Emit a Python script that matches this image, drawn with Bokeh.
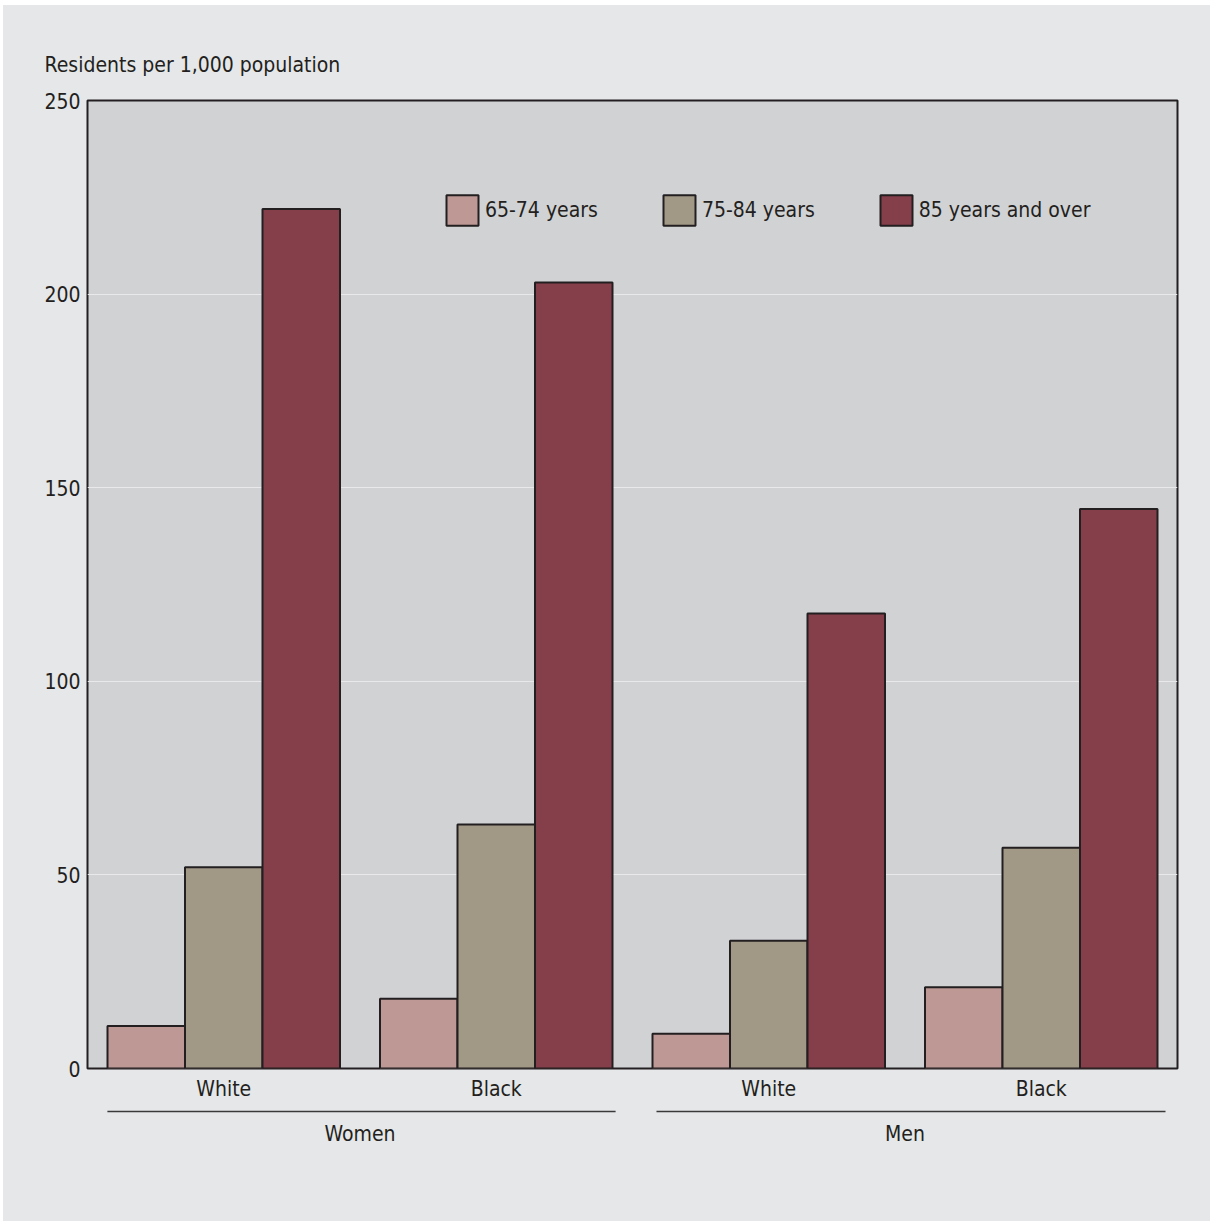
from bokeh.plotting import figure
from bokeh.models import (FactorRange, Range1d, Legend, LegendItem, Title,
                          ColumnDataSource, FixedTicker)
from bokeh.transform import dodge
from bokeh.layouts import column
from bokeh.embed import file_html
from bokeh.resources import INLINE
from bokeh.core.properties import value

# ---------------- data ----------------
sexes = ["Women", "Women", "Men", "Men"]
races = ["White", "Black", "White", "Black"]
groups = ["Women", "Men"]
age_groups = ["65-74 years", "75-84 years", "85 years and over"]
v_65_74 = [11, 18, 9, 21]
v_75_84 = [52, 63, 33, 57]
v_85_over = [222, 203, 117.5, 144.5]
y_ticks = [0, 50, 100, 150, 200, 250]
y_title = "Residents per 1,000 population"

# ---------------- style ----------------
FONT = "DejaVu Sans Condensed, Roboto, sans-serif"
TXT = "#231f20"
PANEL = "#e6e7e8"
PLOTBG = "#d1d2d4"
colors = ["#bd9894", "#a29886", "#843f4a"]
FS = "21px"

factors = list(zip(sexes, races))
src = ColumnDataSource(dict(x=factors, a=v_65_74, b=v_75_84, c=v_85_over))

xr = FactorRange(*factors, factor_padding=0, group_padding=0, range_padding=0)

TOP, FH, BOT = 95, 968, 40
p = figure(x_range=xr, y_range=Range1d(0, 250),
           frame_width=1090, frame_height=FH,
           min_border_left=84, min_border_right=33,
           min_border_top=TOP, min_border_bottom=BOT,
           output_backend="svg", toolbar_location=None)
p.background_fill_color = PLOTBG
p.border_fill_color = PANEL
p.outline_line_color = TXT
p.outline_line_width = 2

bw = 0.2844
fields = ["a", "b", "c"]
offs = [-bw, 0, bw]
rends = []
for f, o, c in zip(fields, offs, colors):
    r = p.vbar(x=dodge("x", o, range=p.x_range), top=f, bottom=0, width=bw,
               source=src, fill_color=c, line_color=TXT, line_width=2)
    rends.append(r)

# y axis
p.yaxis.ticker = FixedTicker(ticks=y_ticks)
p.yaxis.axis_line_color = None
p.yaxis.major_tick_line_color = None
p.yaxis.major_tick_out = 0
p.yaxis.minor_tick_line_color = None
p.yaxis.major_label_standoff = 7
p.yaxis.major_label_text_font_size = FS
p.yaxis.major_label_text_font = FONT
p.yaxis.major_label_text_color = TXT

# x axis (race labels)
p.xaxis.axis_line_color = None
p.xaxis.major_tick_line_color = None
p.xaxis.major_tick_out = 0
p.xaxis.minor_tick_line_color = None
p.xaxis.major_label_standoff = 8
p.xaxis.major_label_text_font_size = FS
p.xaxis.major_label_text_font = FONT
p.xaxis.major_label_text_color = TXT
p.xaxis.group_text_alpha = 0
p.xaxis.group_text_font_size = "1px"
p.xaxis.separator_line_alpha = 0

p.xgrid.grid_line_color = None
p.ygrid.grid_line_color = "#e9e9eb"
p.ygrid.grid_line_width = 1

# legend
legend = Legend(items=[LegendItem(label=lab, renderers=[r]) for lab, r in zip(age_groups, rends)],
                orientation="horizontal", location=(355, 839),
                padding=0, margin=0, spacing=61,
                glyph_width=40, glyph_height=38, label_height=38,
                label_standoff=3, label_text_font_size=FS, label_text_font=FONT,
                label_text_color=TXT, border_line_color=None,
                background_fill_alpha=0)
p.add_layout(legend)

# y title
p.add_layout(Title(text=y_title, align="left", offset=-43, standoff=47,
                   text_font_size=FS, text_font=FONT, text_font_style="normal",
                   text_color=TXT), "above")

# group panel below
H2 = 1216 - (TOP + FH + BOT)
p2 = figure(x_range=xr, y_range=Range1d(H2, 0),
            frame_width=1090, frame_height=H2,
            min_border_left=84, min_border_right=33,
            min_border_top=0, min_border_bottom=0,
            x_axis_location=None, y_axis_location=None,
            output_backend="svg", toolbar_location=None)
p2.background_fill_color = None
p2.border_fill_color = PANEL
p2.outline_line_color = None
p2.grid.grid_line_color = None

ly, ty = 3, 25
wsrc = ColumnDataSource(dict(g=[groups[0]], y=[ly], ty=[ty]))
msrc = ColumnDataSource(dict(g=[groups[1]], y=[ly], ty=[ty]))
p2.segment(x0=dodge("g", -0.927, range=p2.x_range), x1=dodge("g", 0.938, range=p2.x_range),
           y0="y", y1="y", source=wsrc, line_color="#3a3a3a", line_width=1.5)
p2.segment(x0=dodge("g", -0.912, range=p2.x_range), x1=dodge("g", 0.956, range=p2.x_range),
           y0="y", y1="y", source=msrc, line_color="#3a3a3a", line_width=1.5)
gsrc = ColumnDataSource(dict(g=groups, ty=[ty, ty]))
p2.text(x="g", y="ty", text="g", source=gsrc, text_align="center", text_baseline="middle",
        text_font_size=FS, text_font=value(FONT), text_color=TXT)

layout = column(p, p2, margin=(5, 0, 0, 3), styles={"background-color": PANEL})
open("out.html", "w").write(file_html(layout, INLINE))
